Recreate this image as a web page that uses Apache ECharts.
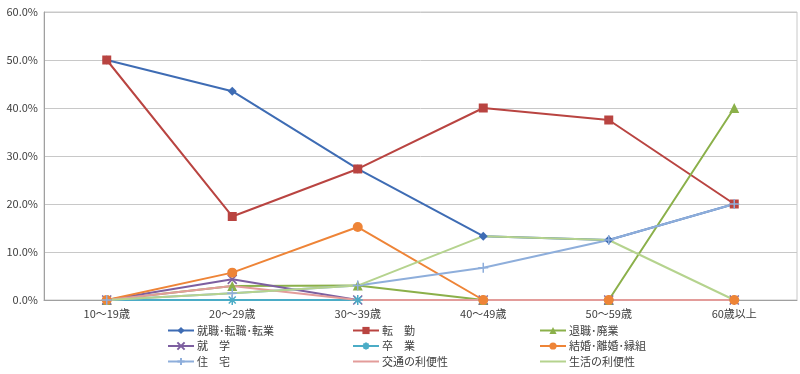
<!DOCTYPE html>
<html><head><meta charset="utf-8">
<script src="https://cdn.jsdelivr.net/npm/echarts@6/dist/echarts.min.js"></script>
<style>html,body{margin:0;padding:0;background:#fff}#c{width:800px;height:374px}</style>
</head><body><div id="c"></div>
<script>
const categories = ['10～19歳','20～29歳','30～39歳','40～49歳','50～59歳','60歳以上'];
const yTicks = [0,10,20,30,40,50,60];
const s_shushoku = [50, 43.5, 27.3, 13.3, 12.5, 20];
const s_tenkin = [50, 17.4, 27.3, 40, 37.5, 20];
const s_taishoku = [0, 2.9, 3.0, 0, 0, 40];
const s_shugaku = [0, 4.3, 0, 0, 0, 0];
const s_sotsugyo = [0, 0, 0, 0, 0, 0];
const s_kekkon = [0, 5.7, 15.2, 0, 0, 0];
const s_jutaku = [0, 1.4, 3.0, 6.7, 12.5, 20];
const s_kotsu = [0, 2.9, 0, 0, 0, 0];
const s_seikatsu = [0, 1.4, 3.0, 13.3, 12.5, 0];
const names = ['就職･転職･転業','転　勤','退職･廃業','就　学','卒　業','結婚･離婚･縁組','住　宅','交通の利便性','生活の利便性'];

const FONT = '"Noto Sans CJK JP", sans-serif';
const P_X = 'path://M0,0L10,10M10,0L0,10';
const P_AST = 'path://M0,5L10,5M5,0L5,10M1.5,1.5L8.5,8.5M8.5,1.5L1.5,8.5';
const P_PLUS = 'path://M0,5L10,5M5,0L5,10';

function mk(name, data, color, symbol, size, stroke){
  const s = {
    name, type:'line', data, symbol, symbolSize:size,
    lineStyle:{color, width:2}, itemStyle:{color},
    animation:false, emphasis:{disabled:true}
  };
  if (stroke) s.itemStyle = {color, borderColor:color, borderWidth:1.5};
  return s;
}
const series = [
  mk(names[0], s_shushoku, '#3E6CB4', 'diamond', 9),
  mk(names[1], s_tenkin, '#B94441', 'rect', 9),
  mk(names[2], s_taishoku, '#8BB04A', 'triangle', 10),
  mk(names[3], s_shugaku, '#7D5FA0', P_X, 9, true),
  mk(names[4], s_sotsugyo, '#4BACC6', P_AST, 10, true),
  mk(names[5], s_kekkon, '#EE8437', 'circle', 10),
  mk(names[6], s_jutaku, '#8EAEDB', P_PLUS, 10, true),
  mk(names[7], s_kotsu, '#E39C9A', 'none', 6),
  mk(names[8], s_seikatsu, '#B5D38E', 'none', 6)
];

function item(n){
  if (n === names[7] || n === names[8]) return {name:n, itemStyle:{opacity:0}};
  return {name:n};
}
function lg(left, items){
  return {
    orient:'vertical', left, top:320, itemGap:4.5, itemWidth:26, itemHeight:9,
    data:items.map(item), selectedMode:false,
    textStyle:{fontFamily:FONT, fontSize:11, color:'#404040', padding:[0,0,0,-2]}
  };
}

const chart = echarts.init(document.getElementById('c'));
chart.setOption({
  animation:false,
  grid:{left:44, right:3, top:12, bottom:74, show:true, borderColor:'#c8c8c8', borderWidth:1},
  legend:[
    lg(162, [names[0], names[3], names[6]]),
    lg(347, [names[1], names[4], names[7]]),
    lg(534, [names[2], names[5], names[8]])
  ],
  xAxis:{
    type:'category', data:categories, boundaryGap:true,
    axisLine:{lineStyle:{color:'#a0a0a0'}}, axisTick:{show:false},
    axisLabel:{fontFamily:FONT, fontSize:11, color:'#404040', margin:8}
  },
  yAxis:{
    type:'value', min:yTicks[0], max:yTicks[yTicks.length-1], interval:10,
    axisLine:{show:true, lineStyle:{color:'#a0a0a0'}}, axisTick:{show:false},
    splitLine:{lineStyle:{color:'#c8c8c8'}},
    axisLabel:{fontFamily:FONT, fontSize:11, color:'#404040', margin:6,
      formatter:v=>v.toFixed(1)+'%'}
  },
  series
});
</script></body></html>
